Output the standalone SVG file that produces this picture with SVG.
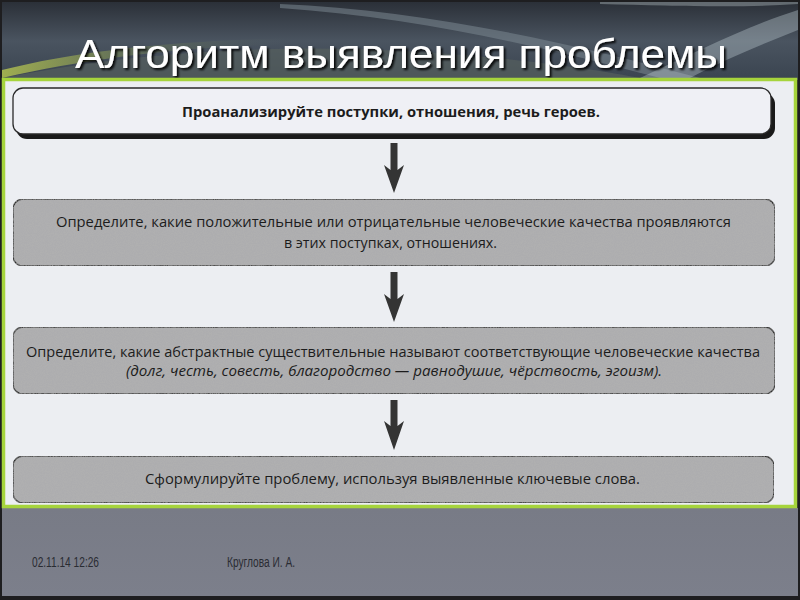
<svg xmlns="http://www.w3.org/2000/svg" width="800" height="600" viewBox="0 0 800 600">
<defs>
<linearGradient id="topbg" x1="0" y1="0" x2="0" y2="1">
<stop offset="0" stop-color="#2b3038"/>
<stop offset="0.5" stop-color="#4a5460"/>
<stop offset="1" stop-color="#3a4450"/>
</linearGradient>
<linearGradient id="sw1" x1="0" y1="0" x2="1" y2="0">
<stop offset="0" stop-color="#b8c850"/>
<stop offset="0.4" stop-color="#6a7858"/>
<stop offset="1" stop-color="#4a5560" stop-opacity="0"/>
</linearGradient>
<linearGradient id="footbg" x1="0" y1="0" x2="0" y2="1">
<stop offset="0" stop-color="#787b86"/>
<stop offset="1" stop-color="#7c7f8b"/>
</linearGradient>
<filter id="noise" x="0" y="0" width="1" height="1">
<feTurbulence type="fractalNoise" baseFrequency="0.9" numOctaves="2" seed="3" result="n"/>
<feColorMatrix in="n" type="matrix" values="0 0 0 0 0.45  0 0 0 0 0.45  0 0 0 0 0.45  0 0 0 0.9 -0.25" result="dots"/>
<feComposite in="dots" in2="SourceGraphic" operator="in" result="d2"/>
<feMerge><feMergeNode in="SourceGraphic"/><feMergeNode in="d2"/></feMerge>
</filter>
<filter id="tshadow" x="-5%" y="-20%" width="110%" height="140%">
<feDropShadow dx="2" dy="2" stdDeviation="0.8" flood-color="#000" flood-opacity="0.9"/>
</filter>
<style>
.box{fill:#adadaf;stroke:#2e2e2e;stroke-width:1.3}
.t{font-family:"Open Sans","Noto Sans","Liberation Sans",sans-serif;font-size:14px;fill:#1c1c1c;text-anchor:middle}
.b{font-weight:bold}
.i{font-style:italic}
.arr{fill:#343434}
.foot{font-family:"Liberation Sans",Arial,sans-serif;font-size:14px;fill:#2a2c33}
</style>
</defs>
<rect width="800" height="600" fill="#1e1e20"/>
<rect x="2" y="2" width="796" height="78" fill="url(#topbg)"/>
<path d="M2,78 C120,55 260,42 420,52 C520,58 600,70 640,78 L2,78 Z" fill="#55605e" opacity="0.7"/>
<path d="M2,70 C80,50 180,40 300,38 L300,44 C190,46 90,58 2,78 Z" fill="url(#sw1)" opacity="0.8"/>
<path d="M280,4 C420,10 560,40 700,78 L660,78 C540,46 420,18 280,8 Z" fill="#7a8790" opacity="0.55"/>
<path d="M640,78 C700,50 750,25 798,10 L798,30 C760,45 720,62 690,78 Z" fill="#c8d8dc" opacity="0.35"/>
<path d="M600,4 C680,6 740,8 798,4 L798,2 L600,2 Z" fill="#9aa4a8" opacity="0.5"/>
<rect x="2" y="508" width="796" height="88" fill="url(#footbg)"/>
<text x="75" y="68" font-family="Liberation Sans,Arial,sans-serif" font-size="40" fill="#ffffff" filter="url(#tshadow)" textLength="652" lengthAdjust="spacingAndGlyphs">Алгоритм выявления проблемы</text>
<rect x="3.5" y="79.5" width="792" height="427" fill="#eceef2" stroke="#a6d43c" stroke-width="3.5"/>
<g id="connectors">
<path class="arr" d="M390.5,143 L397.5,143 L397.5,170 L404,165 L394,193 L384,165 L390.5,170 Z"/>
<path class="arr" d="M390.5,272 L397.5,272 L397.5,299 L404,294 L394,322 L384,294 L390.5,299 Z"/>
<path class="arr" d="M390.5,400 L397.5,400 L397.5,426 L404,421 L394,450 L384,421 L390.5,426 Z"/>
</g>
<g id="n1">
<rect x="16" y="93" width="759" height="46" rx="11" fill="#1a1a1a"/>
<rect x="13" y="88" width="758" height="46" rx="10" fill="#eff0f5" stroke="#2a2a2a" stroke-width="1.3"/>
<text class="t b" x="391" y="117" textLength="418" lengthAdjust="spacingAndGlyphs">Проанализируйте поступки, отношения, речь героев.</text>
</g>
<g id="n2">
<rect class="box" x="13" y="199" width="762" height="67" rx="10" filter="url(#noise)"/>
<text class="t" x="393.5" y="227" textLength="675" lengthAdjust="spacingAndGlyphs">Определите, какие положительные или отрицательные человеческие качества проявляются</text>
<text class="t" x="390.5" y="248" textLength="213" lengthAdjust="spacingAndGlyphs">в этих поступках, отношениях.</text>
</g>
<g id="n3">
<rect class="box" x="13" y="327" width="762" height="67" rx="10" filter="url(#noise)"/>
<text class="t" x="393" y="357" textLength="734" lengthAdjust="spacingAndGlyphs">Определите, какие абстрактные существительные называют соответствующие человеческие качества</text>
<text class="t i" x="394" y="376" textLength="536" lengthAdjust="spacingAndGlyphs">(долг, честь, совесть, благородство — равнодушие, чёрствость, эгоизм).</text>
</g>
<g id="n4">
<rect class="box" x="13" y="456" width="761" height="47" rx="10" filter="url(#noise)"/>
<text class="t" x="392.5" y="484" textLength="495" lengthAdjust="spacingAndGlyphs">Сформулируйте проблему, используя выявленные ключевые слова.</text>
</g>
<text class="foot" x="32" y="567" textLength="67" lengthAdjust="spacingAndGlyphs">02.11.14 12:26</text>
<text class="foot" x="227" y="567" textLength="68" lengthAdjust="spacingAndGlyphs">Круглова И. А.</text>
</svg>
